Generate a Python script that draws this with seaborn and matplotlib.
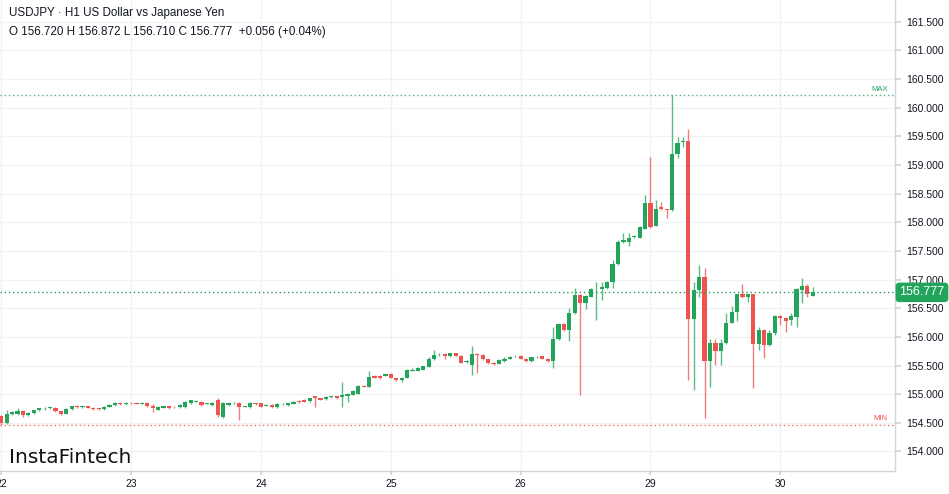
import numpy as np
import pandas as pd
import matplotlib
matplotlib.use('Agg')
import matplotlib.pyplot as plt
import seaborn as sns

# hourly USDJPY candles, 22 Apr .. 30 Apr
day_labels = ['22', '23', '24', '25', '26', '29', '30']
bars_per_day = 24

opens = [
    154.62, 154.50, 154.66, 154.66, 154.71, 154.63, 154.67, 154.72, 154.75, 154.76, 154.76, 154.70,
    154.66, 154.74, 154.79, 154.77, 154.79, 154.76, 154.75, 154.74, 154.78, 154.81, 154.84, 154.82,
    154.85, 154.84, 154.83, 154.85, 154.80, 154.73, 154.76, 154.79, 154.78, 154.77, 154.77, 154.84,
    154.87, 154.87, 154.83, 154.81, 154.90, 154.61, 154.81, 154.84, 154.85, 154.78, 154.77, 154.84,
    154.84, 154.80, 154.81, 154.77, 154.82, 154.81, 154.83, 154.88, 154.90, 154.88, 154.96, 154.93,
    154.91, 154.95, 154.96, 154.95, 154.97, 154.99, 155.01, 155.14, 155.13, 155.32, 155.32, 155.32,
    155.36, 155.28, 155.24, 155.29, 155.41, 155.41, 155.43, 155.48, 155.61, 155.68, 155.70, 155.66,
    155.71, 155.67, 155.57, 155.51, 155.70, 155.68, 155.61, 155.55, 155.53, 155.58, 155.62, 155.66,
    155.67, 155.62, 155.58, 155.64, 155.66, 155.62, 155.58, 155.96, 156.22, 156.12, 156.41, 156.73,
    156.59, 156.70, 156.83, 156.83, 156.85, 156.95, 157.28, 157.65, 157.66, 157.74, 157.73, 157.89,
    158.33, 157.94, 158.26, 158.23, 158.21, 159.19, 159.40, 159.42, 156.32, 156.82, 157.05, 155.58,
    155.90, 155.75, 155.90, 156.25, 156.44, 156.74, 156.70, 156.74, 155.87, 156.12, 155.85, 156.06,
    156.37, 156.33, 156.29, 156.35, 156.82, 156.88, 156.720,
]
highs = [
    154.64, 154.72, 154.70, 154.75, 154.73, 154.68, 154.73, 154.76, 154.77, 154.78, 154.77, 154.71,
    154.75, 154.80, 154.81, 154.80, 154.80, 154.77, 154.76, 154.79, 154.83, 154.86, 154.86, 154.87,
    154.86, 154.86, 154.86, 154.86, 154.82, 154.79, 154.80, 154.80, 154.79, 154.82, 154.88, 154.90,
    154.89, 154.88, 154.84, 154.86, 154.93, 154.86, 154.86, 154.86, 154.86, 154.79, 154.86, 154.85,
    154.85, 154.82, 154.82, 154.84, 154.85, 154.85, 154.88, 154.89, 154.91, 154.94, 154.97, 154.94,
    154.96, 154.97, 154.97, 155.22, 155.02, 155.08, 155.16, 155.16, 155.40, 155.34, 155.33, 155.36,
    155.37, 155.29, 155.30, 155.44, 155.46, 155.47, 155.50, 155.64, 155.77, 155.72, 155.71, 155.72,
    155.72, 155.68, 155.60, 155.84, 155.71, 155.70, 155.62, 155.56, 155.62, 155.64, 155.67, 155.68,
    155.68, 155.63, 155.65, 155.67, 155.67, 155.63, 156.18, 156.23, 156.24, 156.50, 156.85, 156.74,
    156.73, 156.85, 156.96, 156.96, 156.97, 157.34, 157.69, 157.81, 157.82, 157.78, 157.93, 158.48,
    159.14, 158.39, 158.36, 158.24, 160.22, 159.49, 159.48, 159.62, 156.96, 157.25, 157.21, 155.97,
    155.97, 155.97, 156.41, 156.53, 156.75, 156.92, 156.75, 156.75, 156.18, 156.13, 156.12, 156.39,
    156.38, 156.34, 156.41, 156.86, 157.02, 156.92, 156.872,
]
lows = [
    154.47, 154.48, 154.63, 154.64, 154.61, 154.62, 154.66, 154.71, 154.73, 154.74, 154.68, 154.64,
    154.65, 154.73, 154.76, 154.76, 154.75, 154.72, 154.72, 154.73, 154.77, 154.80, 154.81, 154.81,
    154.82, 154.82, 154.82, 154.78, 154.69, 154.72, 154.75, 154.74, 154.76, 154.76, 154.76, 154.83,
    154.86, 154.80, 154.82, 154.80, 154.61, 154.59, 154.80, 154.83, 154.55, 154.77, 154.76, 154.81,
    154.77, 154.79, 154.75, 154.76, 154.81, 154.80, 154.82, 154.85, 154.86, 154.87, 154.78, 154.89,
    154.90, 154.94, 154.92, 154.78, 154.86, 154.98, 155.00, 155.12, 155.12, 155.28, 155.27, 155.31,
    155.28, 155.23, 155.22, 155.28, 155.40, 155.40, 155.42, 155.47, 155.60, 155.66, 155.61, 155.65,
    155.66, 155.54, 155.55, 155.33, 155.37, 155.60, 155.53, 155.51, 155.52, 155.57, 155.61, 155.64,
    155.61, 155.57, 155.57, 155.63, 155.61, 155.56, 155.45, 155.95, 156.11, 155.93, 156.40, 154.99,
    156.49, 156.69, 156.29, 156.64, 156.84, 156.86, 157.25, 157.64, 157.59, 157.73, 157.72, 157.88,
    157.90, 157.93, 158.21, 158.07, 158.20, 159.12, 159.32, 155.25, 155.07, 156.70, 154.58, 155.13,
    155.51, 155.51, 155.88, 156.24, 156.27, 156.67, 156.60, 155.11, 155.77, 155.63, 155.84, 156.03,
    156.21, 156.09, 156.21, 156.18, 156.59, 156.70, 156.710,
]
closes = [
    154.50, 154.66, 154.68, 154.71, 154.63, 154.67, 154.72, 154.75, 154.76, 154.76, 154.70, 154.66,
    154.74, 154.79, 154.77, 154.79, 154.76, 154.74, 154.74, 154.78, 154.81, 154.84, 154.82, 154.85,
    154.84, 154.83, 154.85, 154.80, 154.75, 154.78, 154.79, 154.76, 154.77, 154.81, 154.87, 154.89,
    154.87, 154.81, 154.83, 154.85, 154.64, 154.85, 154.85, 154.85, 154.77, 154.78, 154.85, 154.82,
    154.78, 154.81, 154.77, 154.83, 154.83, 154.84, 154.87, 154.86, 154.87, 154.93, 154.93, 154.90,
    154.95, 154.96, 154.93, 154.99, 155.01, 155.06, 155.15, 155.13, 155.30, 155.29, 155.29, 155.35,
    155.29, 155.24, 155.29, 155.42, 155.42, 155.45, 155.49, 155.62, 155.68, 155.69, 155.67, 155.71,
    155.67, 155.55, 155.58, 155.70, 155.68, 155.61, 155.54, 155.53, 155.60, 155.62, 155.65, 155.67,
    155.62, 155.58, 155.64, 155.65, 155.62, 155.58, 155.97, 156.22, 156.12, 156.41, 156.73, 156.59,
    156.72, 156.83, 156.84, 156.87, 156.96, 157.28, 157.66, 157.69, 157.73, 157.75, 157.91, 158.33,
    157.92, 158.24, 158.23, 158.21, 159.19, 159.39, 159.42, 156.32, 156.82, 157.05, 155.58, 155.90,
    155.75, 155.90, 156.25, 156.44, 156.74, 156.70, 156.74, 155.87, 156.12, 155.85, 156.06, 156.37,
    156.33, 156.28, 156.37, 156.84, 156.88, 156.74, 156.777,
]

green = '#22a55b'
red = '#ef5350'
text_col = '#131722'

sns.set_theme(style='white')
plt.rcParams['font.family'] = ['Liberation Sans', 'DejaVu Sans']

df = pd.DataFrame({'open': opens, 'high': highs, 'low': lows, 'close': closes})
df['bar'] = np.arange(len(df))
colors = np.where(df['close'] >= df['open'], green, red)

fig = plt.figure(figsize=(9.49, 4.94), dpi=100)
ax = fig.add_axes([0, 23 / 494, 895 / 949, 471 / 494])

# wicks then bodies
ax.vlines(df['bar'], df['low'], df['high'], colors=colors, lw=1.0, alpha=0.75, zorder=2)
body_bottom = df[['open', 'close']].min(axis=1)
body_h = (df['close'] - df['open']).abs().clip(lower=0.012)
ax.bar(df['bar'], body_h, bottom=body_bottom, width=0.78, color=colors, linewidth=0, zorder=3)

ax.set_xlim(-0.24, 165.2)
ax.set_ylim(153.659, 161.879)

day_starts = [i * bars_per_day for i in range(len(day_labels))]
ax.set_xticks(day_starts)
ax.set_xticklabels(day_labels)
ax.set_yticks(np.arange(154.0, 161.51, 0.5))
ax.set_yticklabels([f'{v:.3f}' for v in np.arange(154.0, 161.51, 0.5)])
ax.yaxis.tick_right()
ax.grid(True, color='#f0f2f6', lw=1, zorder=0)
ax.tick_params(axis='y', right=True, left=False, length=4, color='#d1d4dc', pad=4,
               labelsize=7.5, labelcolor=text_col)
ax.tick_params(axis='x', bottom=True, length=3, color='#d1d4dc', pad=3,
               labelsize=7.5, labelcolor=text_col)
for side in ['top', 'left']:
    ax.spines[side].set_visible(False)
for side in ['right', 'bottom']:
    ax.spines[side].set_color('#d1d4dc')
    ax.spines[side].set_linewidth(1)

# max / min / last price lines
hi = df['high'].max()
lo = df['low'].min()
last = df['close'].iloc[-1]
ax.axhline(hi, color=green, lw=1, ls=(0, (1, 2)), alpha=0.8, zorder=1)
ax.axhline(lo, color=red, lw=1, ls=(0, (1, 2)), alpha=0.8, zorder=1)
ax.axhline(last, color=green, lw=1, ls=(0, (1, 2)), zorder=4)
tr = ax.get_yaxis_transform()
ax.text(0.992, hi + 0.04, 'MAX', transform=tr, ha='right', va='bottom', fontsize=5.5, color=green)
ax.text(0.992, lo + 0.04, 'MIN', transform=tr, ha='right', va='bottom', fontsize=5.5, color=red)
ax.text(922 / 895, last, f'{last:.3f}', transform=tr, ha='center', va='center', fontsize=9,
        color='white', clip_on=False, zorder=6,
        bbox=dict(boxstyle='round,pad=0.3,rounding_size=0.3', fc=green, ec='none'))

fig.text(9 / 949, 1 - 13 / 494, 'USDJPY · H1 US Dollar vs Japanese Yen', fontsize=8.4,
         color=text_col, va='center', ha='left')
fig.text(9 / 949, 1 - 32 / 494, 'O 156.720 H 156.872 L 156.710 C 156.777  +0.056 (+0.04%)',
         fontsize=8.4, color=text_col, va='center', ha='left')
fig.text(9 / 949, 1 - 457 / 494, 'InstaFintech', fontsize=14.5, family='DejaVu Sans',
         color='#111111', va='center', ha='left')

fig.savefig('out.png', dpi=100)
